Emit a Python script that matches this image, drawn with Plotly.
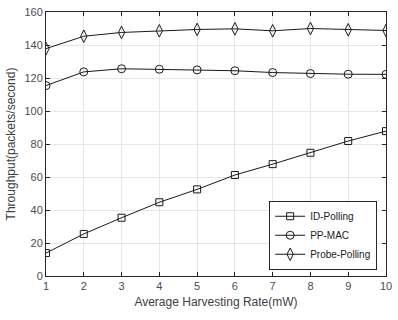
import plotly.graph_objects as go

rate = [1, 2, 3, 4, 5, 6, 7, 8, 9, 10]
id_polling = [13.9, 25.5, 35.3, 44.7, 52.5, 61.2, 67.8, 74.7, 81.8, 87.8]
pp_mac = [115.4, 123.7, 125.6, 125.3, 124.9, 124.4, 123.3, 122.7, 122.3, 122.2]
probe_polling = [137.8, 145.3, 147.6, 148.6, 149.4, 149.8, 148.6, 150.0, 149.2, 148.8]
y_ticks = [0, 20, 40, 60, 80, 100, 120, 140, 160]

series = [
    ("ID-Polling", id_polling, "square-open", 7),
    ("PP-MAC", pp_mac, "circle-open", 8),
    ("Probe-Polling", probe_polling, "diamond-tall-open", 9),
]

fig = go.Figure()
for name, vals, sym, sz in series:
    fig.add_trace(go.Scatter(
        x=rate, y=vals, name=name, mode="lines+markers",
        line=dict(color="#1a1a1a", width=1),
        marker=dict(symbol=sym, size=sz,
                    color="#1a1a1a", line=dict(width=1, color="#1a1a1a")),
    ))

axis_common = dict(
    showline=True, linecolor="#262626", linewidth=1, mirror="ticks",
    ticks="inside", ticklen=4, tickcolor="#262626",
    showgrid=True, gridcolor="#e6e6e6", gridwidth=1, zeroline=False,
    tickfont=dict(family="Liberation Sans, Arial", size=11, color="#4d4d4d"),
)

fig.update_layout(
    width=398, height=320,
    margin=dict(l=46, r=7, t=6, b=44),
    paper_bgcolor="white", plot_bgcolor="white",
    font=dict(family="Liberation Sans, Arial", size=11, color="#4d4d4d"),
    xaxis=dict(range=[1, 10], tickvals=rate, **axis_common,
               title=dict(text="Average Harvesting Rate(mW)", standoff=6,
                          font=dict(size=12, color="#404040"))),
    yaxis=dict(range=[0, 160], tickvals=y_ticks, **axis_common,
               title=dict(text="Throughput(packets/second)", standoff=6,
                          font=dict(size=12, color="#404040"))),
    legend=dict(x=0.974, y=0.285, xanchor="right", yanchor="top",
                bgcolor="white", bordercolor="#262626", borderwidth=1,
                font=dict(family="Liberation Sans, Arial", size=10, color="#1a1a1a"),
                tracegroupgap=0, itemwidth=30),
    showlegend=True,
)

fig.write_html("out.html")
